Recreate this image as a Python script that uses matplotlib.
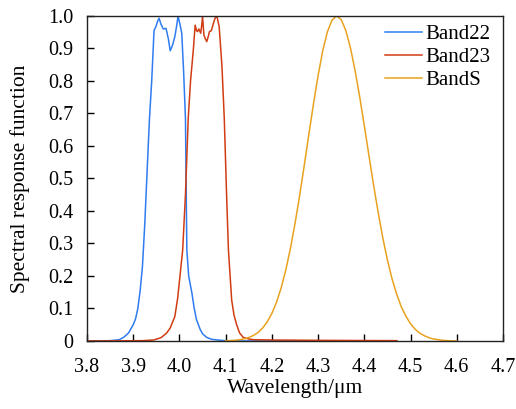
import matplotlib
matplotlib.use("Agg")
import matplotlib.pyplot as plt

# Band22 (blue)
b22_x = [3.80, 3.85, 3.87, 3.88, 3.89, 3.90, 3.905, 3.91, 3.915, 3.92, 3.925, 3.93, 3.935,
         3.94, 3.945, 3.949, 3.953, 3.956, 3.96, 3.965, 3.971, 3.976, 3.98, 3.985, 3.99,
         3.994, 3.997, 4.001, 4.005, 4.009, 4.013, 4.0145, 4.016, 4.02, 4.027, 4.032, 4.037,
         4.045, 4.05, 4.059, 4.07, 4.09, 4.10, 4.12, 4.47]
b22_y = [0.0, 0.001, 0.004, 0.012, 0.025, 0.05, 0.068, 0.10, 0.155, 0.23, 0.36, 0.52, 0.68,
         0.80, 0.955, 0.967, 0.985, 0.993, 0.975, 0.96, 0.962, 0.93, 0.893, 0.91, 0.936,
         0.97, 1.0, 0.975, 0.947, 0.83, 0.685, 0.48, 0.28, 0.20, 0.147, 0.10, 0.065,
         0.035, 0.022, 0.011, 0.005, 0.002, 0.001, 0.0, 0.0]

# Band23 (red)
b23_x = [3.80, 3.92, 3.944, 3.96, 3.972, 3.98, 3.99, 3.996, 4.001, 4.007, 4.013, 4.019,
         4.024, 4.030, 4.034, 4.037, 4.039, 4.042, 4.046, 4.048, 4.050, 4.053, 4.056, 4.059,
         4.062, 4.065, 4.069, 4.073, 4.077, 4.081, 4.086, 4.092, 4.097, 4.102, 4.106, 4.113,
         4.118, 4.124, 4.13, 4.138, 4.15, 4.16, 4.20, 4.30, 4.47]
b23_y = [0.0, 0.001, 0.003, 0.010, 0.024, 0.040, 0.075, 0.13, 0.198, 0.28, 0.45, 0.685,
         0.80, 0.895, 0.972, 0.955, 0.952, 0.96, 0.947, 0.97, 0.998, 0.941, 0.93, 0.921,
         0.935, 0.952, 0.955, 0.975, 0.993, 1.0, 0.967, 0.844, 0.685, 0.45, 0.28, 0.126,
         0.08, 0.049, 0.025, 0.011, 0.006, 0.004, 0.003, 0.002, 0.001]

# BandS (orange)
bs_x = [4.10, 4.11, 4.12, 4.13, 4.14, 4.15, 4.16, 4.17, 4.18, 4.19, 4.20, 4.21, 4.22, 4.23,
        4.24, 4.25, 4.26, 4.27, 4.28, 4.29, 4.30, 4.31, 4.32, 4.33, 4.34, 4.35, 4.36, 4.37,
        4.38, 4.39, 4.40, 4.41, 4.42, 4.43, 4.44, 4.45, 4.46, 4.47, 4.48, 4.49, 4.50, 4.51,
        4.52, 4.53, 4.54, 4.55, 4.56, 4.57, 4.58, 4.59, 4.60]
bs_y = [0.0007, 0.0013, 0.0022, 0.0039, 0.0065, 0.0106, 0.017, 0.026, 0.040, 0.059, 0.085,
        0.119, 0.163, 0.218, 0.284, 0.361, 0.447, 0.540, 0.636, 0.730, 0.817, 0.893, 0.951,
        0.987, 1.0, 0.989, 0.955, 0.902, 0.832, 0.751, 0.662, 0.570, 0.480, 0.395, 0.317,
        0.249, 0.191, 0.144, 0.105, 0.076, 0.053, 0.036, 0.024, 0.016, 0.010, 0.006, 0.004,
        0.002, 0.001, 0.0005, 0.0]

x_ticks = [3.8, 3.9, 4.0, 4.1, 4.2, 4.3, 4.4, 4.5, 4.6, 4.7]
y_ticks = [0, 0.1, 0.2, 0.3, 0.4, 0.5, 0.6, 0.7, 0.8, 0.9, 1.0]
y_labels = ["0", "0.1", "0.2", "0.3", "0.4", "0.5", "0.6", "0.7", "0.8", "0.9", "1.0"]

plt.rcParams['font.family'] = ['Liberation Serif', 'DejaVu Serif']

fig = plt.figure(figsize=(5.16, 4.09), dpi=100)
ax = fig.add_axes([0.1686, 0.1663, 0.8062, 0.7946])

ax.plot(b22_x, b22_y, color='#2f7cf0', lw=1.1, label='Band22')
ax.plot(b23_x, b23_y, color='#d23c12', lw=1.1, label='Band23')
ax.plot(bs_x, bs_y, color='#e8a21e', lw=1.1, label='BandS')

ax.set_xlim(3.8, 4.7)
ax.set_ylim(0, 1.0)
ax.set_xticks(x_ticks)
ax.set_xticklabels([f"{v:.1f}" for v in x_ticks])
ax.set_yticks(y_ticks)
ax.set_yticklabels(y_labels)
ax.tick_params(direction='in', length=5, width=1, labelsize=14.5)
ax.tick_params(axis='x', pad=12)
ax.tick_params(axis='y', pad=10)
for s in ax.spines.values():
    s.set_linewidth(1.0)
    s.set_color('#222222')

ax.set_xlabel('Wavelength/\u03bcm', fontsize=15.5, labelpad=2)
ax.set_ylabel('Spectral response function', fontsize=15.5, labelpad=13)

ax.legend(loc='upper right', frameon=False, fontsize=15, handlelength=1.8,
          handletextpad=0.15, labelspacing=0.17, borderaxespad=0.0,
          bbox_to_anchor=(0.99, 1.0))

fig.savefig('out.png', dpi=100)
